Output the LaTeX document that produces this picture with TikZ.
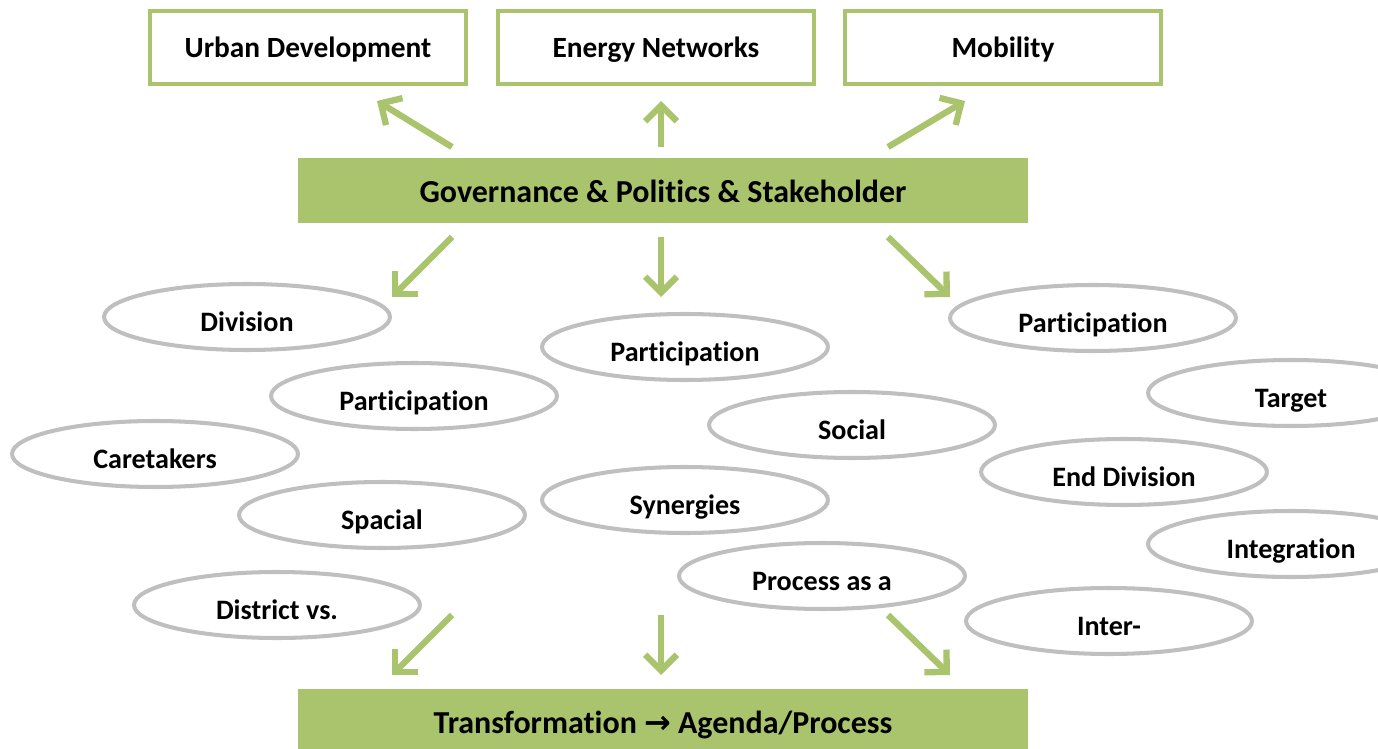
\documentclass[tikz,border=0pt]{standalone}
\usepackage{fontspec}
\setmainfont[Ligatures=NoCommon]{Carlito}
\newfontfamily\arrowfont{DejaVu Sans}
\usetikzlibrary{shapes.geometric,arrows.meta}
\definecolor{leafgreen}{RGB}{169,196,108}
\definecolor{bubblegray}{RGB}{191,191,191}

\begin{document}
\begin{tikzpicture}[x=0.02cm,y=-0.02cm]
    \tikzstyle{topic}=[draw=leafgreen,line width=2.3pt,fill=white,minimum width=6.32cm,minimum height=1.46cm,inner sep=0pt,text height=11.3pt,text depth=0pt,font=\fontsize{16.7}{20}\selectfont\bfseries]
    \tikzstyle{banner}=[fill=leafgreen,minimum width=14.6cm,minimum height=1.3cm,inner sep=0pt,text height=14pt,text depth=0pt,font=\fontsize{18.2}{22}\selectfont\bfseries]
    \tikzstyle{bubble}=[ellipse,draw=bubblegray,line width=2.3pt,fill=white,minimum width=5.72cm,minimum height=1.32cm,inner sep=0pt,text height=16.5pt,text depth=0pt,font=\fontsize{16}{19}\selectfont\bfseries]
    \tikzstyle{flow}=[draw=leafgreen,line width=3.6pt,-{Straight Barb[length=9pt,width=18pt]}]

    \useasboundingbox (0,0) rectangle (1378,749);
    \clip (0,0) rectangle (1378,749);

    % Draw the topic boxes
    \node[topic] (urban) at (308,47.5) {Urban Development};
    \node[topic] (energy) at (656,47.5) {Energy Networks};
    \node[topic] (mobility) at (1003,47.5) {Mobility};

    % Draw the two banners
    \node[banner] (gov) at (663,190.5) {Governance \& Politics \& Stakeholder};
    \node[banner] (trans) at (663,721) {Transformation {\arrowfont\bfseries →} Agenda/Process};

    % Draw the bubbles, left group
    \node[bubble] (division) at (247,317) {Division};
    \node[bubble] (part-l) at (414,396) {Participation};
    \node[bubble] (caretakers) at (155,454) {Caretakers};
    \node[bubble] (spacial) at (382,515) {Spacial};
    \node[bubble] (district) at (277,605) {District vs.};

    % Draw the bubbles, middle group
    \node[bubble] (part-m) at (685,347) {Participation};
    \node[bubble] (social) at (852,425) {Social};
    \node[bubble] (synergies) at (685,500) {Synergies};
    \node[bubble] (process) at (822,576) {Process as a};

    % Draw the bubbles, right group
    \node[bubble] (part-r) at (1093,318) {Participation};
    \node[bubble] (target) at (1291,393) {Target};
    \node[bubble] (enddiv) at (1124,472) {End Division};
    \node[bubble] (integration) at (1291,544) {Integration};
    \node[bubble] (inter) at (1109,621) {Inter-};

    % Arrow end points
    \coordinate (up-1) at (452,147);   \coordinate (up-1e) at (377,101);
    \coordinate (up-2) at (661,147);   \coordinate (up-2e) at (661,101);
    \coordinate (up-3) at (888,147);   \coordinate (up-3e) at (965,101);
    \coordinate (mid-1) at (452,237);  \coordinate (mid-1e) at (392,297);
    \coordinate (mid-2) at (661,237);  \coordinate (mid-2e) at (661,297);
    \coordinate (mid-3) at (888,237);  \coordinate (mid-3e) at (950,297);
    \coordinate (low-1) at (452,615);  \coordinate (low-1e) at (392,675);
    \coordinate (low-2) at (661,615);  \coordinate (low-2e) at (661,675);
    \coordinate (low-3) at (888,615);  \coordinate (low-3e) at (950,675);

    % Connect the banner with the topics and the bubbles
    \foreach \n in {1,2,3} {
      \draw[flow] (up-\n) -- (up-\n e);
      \draw[flow] (mid-\n) -- (mid-\n e);
      \draw[flow] (low-\n) -- (low-\n e);
    }
\end{tikzpicture}
\end{document}
